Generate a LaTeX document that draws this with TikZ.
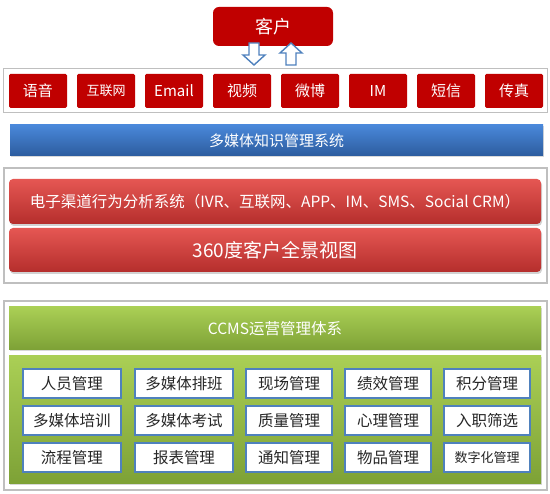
\documentclass[tikz,border=0pt]{standalone}
\usepackage{fontspec}
\setmainfont{Noto Sans CJK SC}
\usetikzlibrary{shadows}
\definecolor{dred}{HTML}{C00000}
\definecolor{frame}{HTML}{BFBFBF}
\definecolor{bluebar1}{HTML}{4A88DA}
\definecolor{bluebar2}{HTML}{2C5C9E}
\definecolor{redbar1}{HTML}{E55753}
\definecolor{redbar2}{HTML}{B52E2C}
\definecolor{green1}{HTML}{AACF55}
\definecolor{green2}{HTML}{7DA136}
\definecolor{boxblue}{HTML}{4F81BD}
\definecolor{arrowblue}{HTML}{4F81BD}
\tikzset{
  container/.style={draw=frame, fill=white, inner sep=0pt},
  chanbox/.style={fill=dred, rounded corners=1.5pt, inner sep=0pt, text=white,
    minimum width=58pt, minimum height=34pt, font=\fontsize{15}{15}\selectfont},
  bar/.style={inner sep=0pt, text=white, minimum width=532pt},
  redbar/.style={bar, shading=axis, top color=redbar1, bottom color=redbar2,
    rounded corners=4pt, drop shadow={shadow xshift=1pt, shadow yshift=-2pt, opacity=0.35}},
  greenbar/.style={bar, shading=axis, top color=green1, bottom color=green2,
    drop shadow={shadow xshift=1pt, shadow yshift=-1.5pt, opacity=0.3}},
  gridbox/.style={draw=boxblue, line width=2pt, fill=white, inner sep=0pt,
    minimum height=29pt, text=black!85, font=\fontsize{15.5}{15.5}\selectfont,
    drop shadow={shadow xshift=0.8pt, shadow yshift=-0.8pt, opacity=0.3}},
  blockarrow/.style={draw=arrowblue, line width=1.4pt, fill=white, line join=miter}
}
\begin{document}
\begin{tikzpicture}[x=1pt,y=-1pt]
\useasboundingbox (0,0) rectangle (550,494);
% top customer box
\node[fill=dred, rounded corners=6pt, inner sep=0pt, text=white,
  minimum width=120pt, minimum height=39pt, font=\fontsize{18}{18}\selectfont]
  (cust) at (273,26.5) {客户};
% channel container
\node[container, line width=1pt, minimum width=544pt, minimum height=44pt] (chan) at (275.5,91) {};
\node[chanbox] (c1) at (38,91) {语音};
\node[chanbox, font=\fontsize{13}{13}\selectfont] (c2) at (106,91) {互联网};
\node[chanbox] (c3) at (174,91) {Email};
\node[chanbox] (c4) at (242,91) {视频};
\node[chanbox] (c5) at (310,91) {微博};
\node[chanbox] (c6) at (378,91) {IM};
\node[chanbox] (c7) at (446,91) {短信};
\node[chanbox] (c8) at (514,91) {传真};
% block arrows
\draw[blockarrow] (249,43) -- (259,43) -- (259,55) -- (265,55) -- (254,65) -- (243,55) -- (249,55) -- cycle;
\draw[blockarrow] (286,65) -- (296,65) -- (296,53) -- (302,53) -- (291,43) -- (280,53) -- (286,53) -- cycle;
% knowledge bar
\node[bar, minimum width=533pt, minimum height=31pt, shading=axis, top color=bluebar1, bottom color=bluebar2,
  drop shadow={shadow xshift=1pt, shadow yshift=-1.5pt, opacity=0.3},
  font=\fontsize{15}{15}\selectfont] (kb) at (276.5,140.5) {多媒体知识管理系统};
% analysis container
\node[container, line width=2pt, minimum width=543pt, minimum height=115pt] (ana) at (275.5,225.5) {};
\node[redbar, minimum height=45pt, font=\fontsize{15.5}{15.5}\selectfont] (r1) at (275,201.5)
  {电子渠道行为分析系统（IVR、互联网、APP、IM、SMS、Social CRM）};
\node[redbar, minimum height=44pt, font=\fontsize{19}{19}\selectfont] (r2) at (275,250) {360度客户全景视图};
% operations container
\node[container, line width=2pt, minimum width=543pt, minimum height=189pt] (ops) at (275.5,395.5) {};
\node[greenbar, minimum height=43pt, font=\fontsize{15.5}{15.5}\selectfont] (ccms) at (275,328.5) {CCMS运营管理体系};
\node[greenbar, minimum height=128pt] (body) at (275,420) {};
% grid
\node[gridbox, minimum width=98pt] (g11) at (72,383.5) {人员管理};
\node[gridbox, minimum width=98pt] (g12) at (184,383.5) {多媒体排班};
\node[gridbox, minimum width=86pt] (g13) at (289,383.5) {现场管理};
\node[gridbox, minimum width=86pt] (g14) at (388,383.5) {绩效管理};
\node[gridbox, minimum width=86pt] (g15) at (487,383.5) {积分管理};
\node[gridbox, minimum width=98pt] (g21) at (72,420.5) {多媒体培训};
\node[gridbox, minimum width=98pt] (g22) at (184,420.5) {多媒体考试};
\node[gridbox, minimum width=86pt] (g23) at (289,420.5) {质量管理};
\node[gridbox, minimum width=86pt] (g24) at (388,420.5) {心理管理};
\node[gridbox, minimum width=86pt] (g25) at (487,420.5) {入职筛选};
\node[gridbox, minimum width=98pt] (g31) at (72,457.5) {流程管理};
\node[gridbox, minimum width=98pt] (g32) at (184,457.5) {报表管理};
\node[gridbox, minimum width=86pt] (g33) at (289,457.5) {通知管理};
\node[gridbox, minimum width=86pt] (g34) at (388,457.5) {物品管理};
\node[gridbox, minimum width=86pt, font=\fontsize{13}{13}\selectfont] (g35) at (487,457.5) {数字化管理};
\end{tikzpicture}
\end{document}
